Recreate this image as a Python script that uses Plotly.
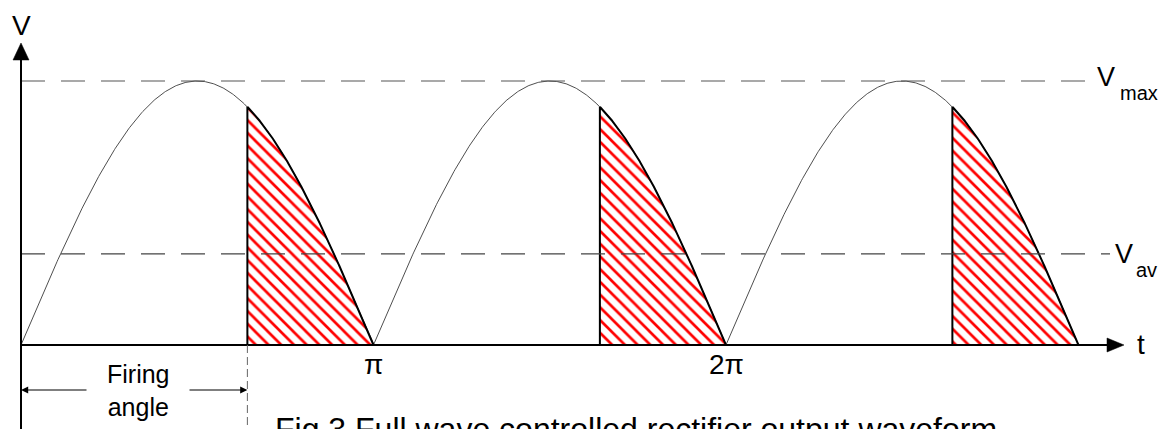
import numpy as np
import plotly.graph_objects as go

# Waveform parameters (x measured in multiples of pi, y in units of Vmax)
V_MAX = 1.0
V_AV_LEVEL = 0.345          # level at which the average-voltage line is drawn
FIRING_ANGLE_DEG = 115.6    # thyristor firing angle
HALF_CYCLES = [0, 1, 2]     # rectified half cycles shown
TICK_POS = [1, 2]
TICK_TEXT = ["π", "2π"]

W, H = 1164, 429
X0_PX, PI_PX = 21, 352.5    # origin and pixels per pi
Y0_PX, VMAX_PX = 345, 264   # baseline and pixels per Vmax


def X(px):
    return (px - X0_PX) / PI_PX


def Y(py):
    return (Y0_PX - py) / VMAX_PX


alpha = FIRING_ANGLE_DEG / 180.0
fig = go.Figure()

# full rectified sine (thin)
theta = np.linspace(0, len(HALF_CYCLES), 1200)
v = V_MAX * np.abs(np.sin(np.pi * theta))
fig.add_trace(go.Scatter(x=theta, y=v, mode="lines",
                         line=dict(color="#3a3a3a", width=0.9),
                         hoverinfo="skip", showlegend=False))

# conducting portions: hatched area from firing angle to end of each half cycle
for k in HALF_CYCLES:
    th = np.linspace(k + alpha, k + 1, 200)
    vv = V_MAX * np.abs(np.sin(np.pi * th))
    xs = np.concatenate([[k + alpha], th, [k + alpha]])
    ys = np.concatenate([[0.0], vv, [0.0]])
    fig.add_trace(go.Scatter(
        x=xs, y=ys, mode="lines", fill="toself",
        fillcolor="rgba(0,0,0,0)",
        fillpattern=dict(shape="\\", fgcolor="#ff0000", bgcolor="white",
                         fgopacity=1, size=9, solidity=0.3),
        line=dict(color="black", width=2),
        hoverinfo="skip", showlegend=False))

dash_long = "24px,16px"
shapes = [
    # Vmax and Vav reference lines
    dict(type="line", x0=0, x1=X(1087), y0=V_MAX, y1=V_MAX,
         line=dict(color="#555555", width=1.2, dash=dash_long)),
    dict(type="line", x0=0, x1=X(1110), y0=V_AV_LEVEL, y1=V_AV_LEVEL,
         line=dict(color="#444444", width=1.2, dash=dash_long)),
    # axes
    dict(type="line", x0=0, x1=0, y0=Y(429), y1=Y(58),
         line=dict(color="black", width=2)),
    dict(type="line", x0=0, x1=X(1110), y0=0, y1=0,
         line=dict(color="black", width=2)),
    dict(type="path", path=f"M 0,{Y(43)} L {X(13)},{Y(60)} L {X(29)},{Y(60)} Z",
         fillcolor="black", line=dict(color="black", width=0.5)),
    dict(type="path", path=f"M {X(1124)},0 L {X(1107)},{Y(338)} L {X(1107)},{Y(352)} Z",
         fillcolor="black", line=dict(color="black", width=0.5)),
    # firing angle marker below the axis
    dict(type="line", x0=alpha, x1=alpha, y0=0, y1=Y(429),
         line=dict(color="#666666", width=1, dash="8px,4px")),
]

font = "Arial, Liberation Sans, sans-serif"
ann = []


def label(text, x, y, size, xanchor="center", yanchor="middle"):
    ann.append(dict(text=text, x=x, y=y, xref="x", yref="y", showarrow=False,
                    xanchor=xanchor, yanchor=yanchor,
                    font=dict(family=font, size=size, color="black")))


label("V", 0, Y(25), 28)
label("t", X(1141), Y(344), 28)
for p, t in zip(TICK_POS, TICK_TEXT):
    label(t, p, Y(364), 28)
label("V", X(1106), Y(77), 27)
label("max", X(1118), Y(93), 20, xanchor="left")
label("V", X(1124), Y(254), 27)
label("av", X(1134), Y(270), 20, xanchor="left")
label("Firing<br>angle", X(138), Y(390), 25)
label("Fig.3 Full wave controlled rectifier output waveform", X(273), Y(409), 32,
      xanchor="left", yanchor="top")

# double arrow spanning the firing angle
y_arr = Y(390)
for tip, tail in [(0, X(88)), (alpha, X(188))]:
    ann.append(dict(text="", x=tip, y=y_arr, ax=tail, ay=y_arr,
                    xref="x", yref="y", axref="x", ayref="y",
                    showarrow=True, arrowhead=2, arrowsize=1.2,
                    arrowwidth=1.2, arrowcolor="black", standoff=0))

fig.update_layout(
    width=W, height=H, autosize=False,
    margin=dict(l=0, r=0, t=0, b=0),
    paper_bgcolor="white", plot_bgcolor="white",
    xaxis=dict(range=[X(0), X(W)], visible=False, fixedrange=True),
    yaxis=dict(range=[Y(H), Y(0)], visible=False, fixedrange=True),
    shapes=shapes, annotations=ann, showlegend=False,
)

fig.write_html("out.html")
